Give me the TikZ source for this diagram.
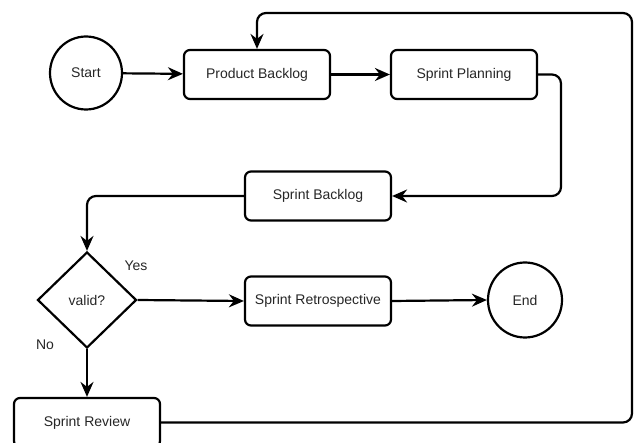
\documentclass[tikz,border=0pt]{standalone}
\usepackage{fontspec}
\setmainfont{Liberation Sans}
\usetikzlibrary{shapes.geometric,arrows.meta}
\begin{document}
\begin{tikzpicture}[x=1pt,y=-1pt,
  every node/.style={font=\fontsize{14}{16}\selectfont, text=black!85},
  box/.style={draw, line width=2.2pt, rounded corners=6pt, minimum width=146pt, minimum height=49pt, inner sep=0pt},
  term/.style={draw, line width=2.2pt, ellipse, minimum width=72pt, minimum height=73pt, inner sep=0pt},
  dec/.style={draw, line width=2.2pt, diamond, minimum width=99pt, minimum height=96pt, inner sep=0pt, aspect=1},
  conn/.style={line width=2.2pt, rounded corners=9pt, -{Stealth[length=15pt,width=13pt,inset=5pt]}},
  lbl/.style={font=\fontsize{14}{16}\selectfont}
]
\useasboundingbox (0,0) rectangle (635,443);
\begin{scope}
\clip (0,0) rectangle (635,443);
\node[term] (start) at (86,73) {Start};
\node[box] (pb) at (257,74.5) {Product Backlog};
\node[box] (sp) at (464,74.5) {Sprint Planning};
\node[box] (sb) at (318,196) {Sprint Backlog};
\node[dec] (valid) at (87,300) {valid?};
\node[box] (sr) at (318,301) {Sprint Retrospective};
\node[term, minimum width=74pt, minimum height=75pt] (end) at (525,300) {End};
\node[box] (rev) at (87,422.5) {Sprint Review};
\node[lbl] (yes) at (136,266) {Yes};
\node[lbl] (no) at (45,345) {No};
\coordinate (c1) at (632,13);
\coordinate (c2) at (561,74.5);

\draw[conn] (start) -- (pb);
\draw[conn] (pb) -- (sp);
\draw[conn] (sp.east) -- (c2) |- (sb.east);
\draw[conn] (sb.west) -| (valid.north);
\draw[conn] (valid.east) -- (sr.west);
\draw[conn] (sr.east) -- (end.west);
\draw[conn] (valid.south) -- (rev.north);
\draw[conn] (rev.east) -| (c1) -| (pb.north);
\end{scope}
\end{tikzpicture}
\end{document}
